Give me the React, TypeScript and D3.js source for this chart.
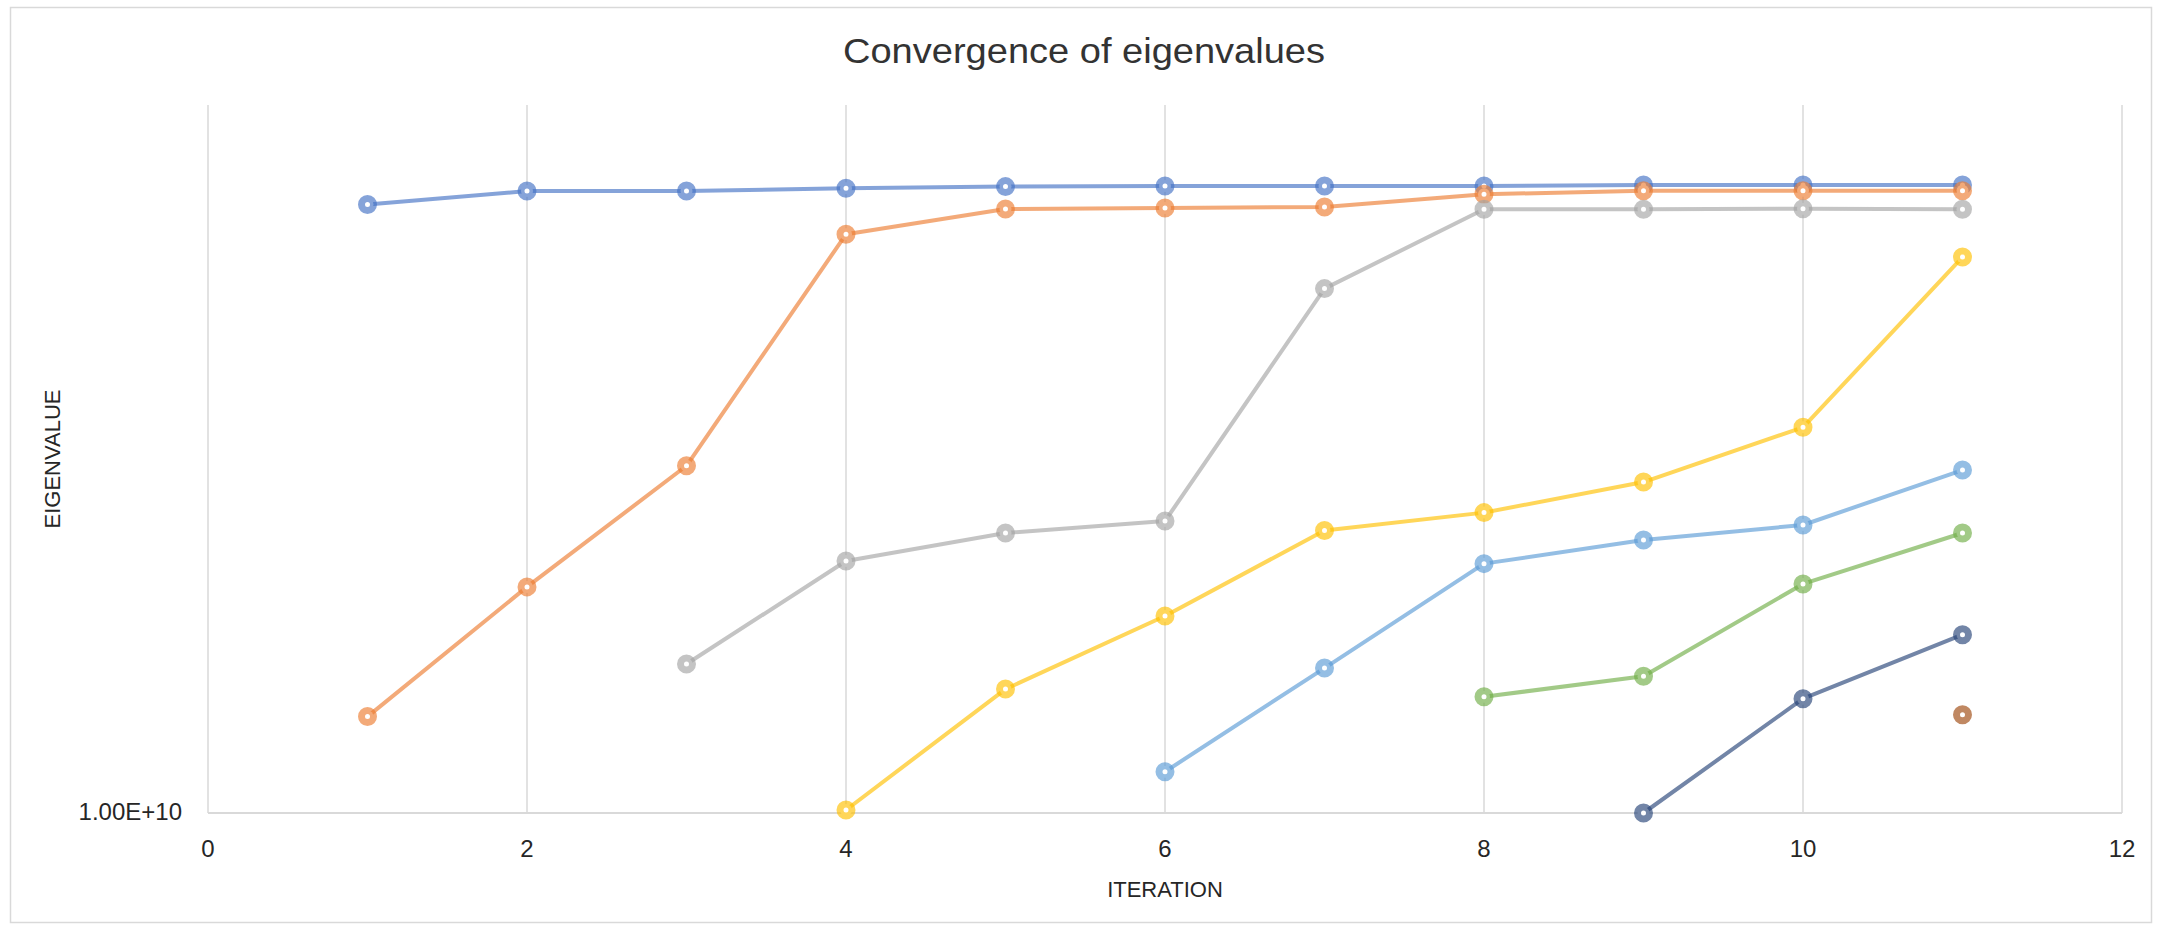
import React from "react";
import * as d3 from "d3";

const ITERATIONS = [1, 2, 3, 4, 5, 6, 7, 8, 9, 10, 11];
const X_TICKS = [0, 2, 4, 6, 8, 10, 12];
const Y_TICKS = [1e10];

const EIG1 = [1.04e16, 1.41e16, 1.41e16, 1.5e16, 1.56e16, 1.58e16, 1.58e16, 1.58e16, 1.62e16, 1.62e16, 1.62e16];
const EIG2 = [8.98e10, 1.72e12, 2.71e13, 5.27e15, 9.37e15, 9.59e15, 9.81e15, 1.31e16, 1.42e16, 1.42e16, 1.42e16];
const EIG3 = [null, null, 2.97e11, 3.1e12, 5.87e12, 7.71e12, 1.53e15, 9.31e15, 9.31e15, 9.44e15, 9.31e15];
const EIG4 = [null, null, null, 1.07e10, 1.68e11, 8.87e11, 6.21e12, 9.33e12, 1.87e13, 6.51e13, 3.14e15];
const EIG5 = [null, null, null, null, null, 2.56e10, 2.71e11, 2.92e12, 5.0e12, 7.04e12, 2.46e13];
const EIG6 = [null, null, null, null, null, null, null, 1.41e11, 2.25e11, 1.84e12, 5.87e12];
const EIG7 = [null, null, null, null, null, null, null, null, 1.0e10, 1.35e11, 5.79e11];
const EIG8 = [null, null, null, null, null, null, null, null, null, null, 9.38e10];

const SERIES = [EIG1, EIG2, EIG3, EIG4, EIG5, EIG6, EIG7, EIG8];
const COLORS = ["#4472C4", "#ED7D31", "#A5A5A5", "#FFC000", "#5B9BD5", "#70AD47", "#264478", "#9E480E"];

const TITLE = "Convergence of eigenvalues";
const X_TITLE = "ITERATION";
const Y_TITLE = "EIGENVALUE";

const W = 2161;
const H = 930;
const PL = 208;
const PR = 2122;
const PT = 105;
const PB = 813;

export default function App() {
  const x = d3.scaleLinear().domain([0, 12]).range([PL, PR]);
  const y = d3.scaleLog().domain([1e10, 1e17]).range([PB, PT]);
  const font = "'Liberation Sans', Arial, sans-serif";
  const alpha = 0.65;

  const line = d3
    .line<{ i: number; v: number | null }>()
    .defined((d) => d.v != null)
    .x((d) => x(d.i))
    .y((d) => y(d.v as number));

  return (
    <svg
      width={W}
      height={H}
      style={{ position: "absolute", left: 0, top: 0, background: "#fff" }}
      fontFamily={font}
    >
      <rect x={0} y={0} width={W} height={H} fill="#fff" />
      <rect x={10.5} y={7.5} width={2141} height={915} fill="#fff" stroke="#D9D9D9" strokeWidth={1.5} />
      <text
        x={1084}
        y={62.5}
        fontSize={35}
        textAnchor="middle"
        fill="#333"
        textLength={482}
        lengthAdjust="spacingAndGlyphs"
      >
        {TITLE}
      </text>

      {X_TICKS.map((t) => (
        <line key={"g" + t} x1={x(t)} x2={x(t)} y1={PT} y2={PB} stroke="#D9D9D9" strokeWidth={1.5} />
      ))}
      <line x1={PL} x2={PR} y1={PB} y2={PB} stroke="#D9D9D9" strokeWidth={2} />

      {X_TICKS.map((t) => (
        <text key={"xt" + t} x={x(t)} y={857} fontSize={24} textAnchor="middle" fill="#262626">
          {t}
        </text>
      ))}
      {Y_TICKS.map((t) => (
        <text key={"yt" + t} x={182} y={y(t) + 7} fontSize={24} textAnchor="end" fill="#262626">
          {t.toExponential(2).toUpperCase()}
        </text>
      ))}

      <text x={(PL + PR) / 2} y={897} fontSize={22} textAnchor="middle" fill="#262626">
        {X_TITLE}
      </text>
      <text
        transform={`translate(60,459) rotate(-90)`}
        fontSize={22}
        textAnchor="middle"
        fill="#262626"
      >
        {Y_TITLE}
      </text>

      {SERIES.map((vals, si) => {
        const pts = vals.map((v, k) => ({ i: ITERATIONS[k], v }));
        const c = COLORS[si];
        return (
          <g key={"s" + si}>
            <path d={line(pts) || ""} fill="none" stroke={c} strokeOpacity={alpha} strokeWidth={4} strokeLinejoin="round" />
            {pts
              .filter((p) => p.v != null)
              .map((p, k) => (
                <circle
                  key={k}
                  cx={x(p.i)}
                  cy={y(p.v as number)}
                  r={6}
                  fill="#fff"
                  stroke={c}
                  strokeOpacity={alpha}
                  strokeWidth={7}
                />
              ))}
          </g>
        );
      })}
    </svg>
  );
}
